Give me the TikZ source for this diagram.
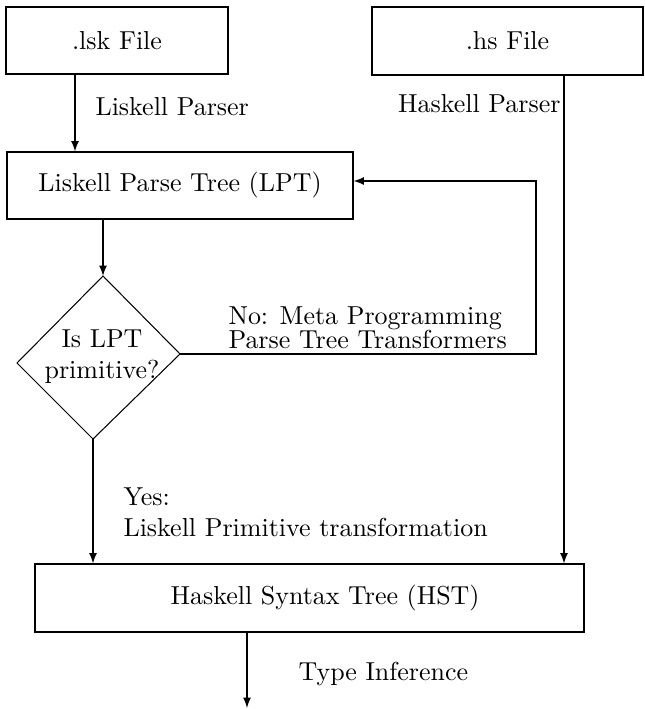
\documentclass[tikz,border=0pt]{standalone}
\usepackage{tikz}
\usetikzlibrary{arrows.meta, calc}

\begin{document}
\begin{tikzpicture}[x=0.385pt, y=-0.385pt, >=latex]
  \tikzset{
    box/.style={draw, inner sep=0pt},
    lbl/.style={anchor=base west, inner sep=0pt},
  }
  \useasboundingbox (0,0) rectangle (645,709);

  \node[box, minimum width={222*0.385pt}, minimum height={67*0.385pt}] (lsk) at (117,40.5) {.lsk File};
  \node[box, minimum width={271*0.385pt}, minimum height={68*0.385pt}] (hs) at (507.5,41) {.hs File};
  \node[box, minimum width={346*0.385pt}, minimum height={67*0.385pt}] (lpt) at (180,185.5) {Liskell Parse Tree (LPT)};
  \node[box, minimum width={549*0.385pt}, minimum height={68*0.385pt}] (hst) at (309.5,598) {\hspace*{12pt}Haskell Syntax Tree (HST)};

  \coordinate (dT) at (103,276);
  \coordinate (dR) at (180,354);
  \coordinate (dB) at (93,439);
  \coordinate (dL) at (17,363);
  \draw (dT) -- (dR) -- (dB) -- (dL) -- cycle;
  \node[align=center, inner sep=0pt] (dec) at (102,357) {Is LPT\\primitive?};

  \coordinate (out) at (247,708);

  \draw[->] (75,0 |- lsk.south) -- (75,0 |- lpt.north);
  \draw[->] (564,0 |- hs.south) -- (564,0 |- hst.north);
  \draw[->] (dT |- lpt.south) -- (dT);
  \draw[->] (dR) -- (536,0 |- dR) -- (536,181) -- (lpt.east |- 0,181);
  \draw[->] (dB) -- (dB |- hst.north);
  \draw[->] (out |- hst.south) -- (out);

  \node[lbl] (lskp) at (95,115) {Liskell Parser};
  \node[lbl, anchor=base east] (hsp) at (561,113) {Haskell Parser};
  \node[lbl] (no1) at (228,324) {No: Meta Programming};
  \node[lbl] (no2) at (228,348) {Parse Tree Transformers};
  \node[lbl] (yes1) at (123,505) {Yes:};
  \node[lbl] (yes2) at (123,536) {Liskell Primitive transformation};
  \node[lbl] (ti) at (298,680) {Type Inference};
\end{tikzpicture}
\end{document}
